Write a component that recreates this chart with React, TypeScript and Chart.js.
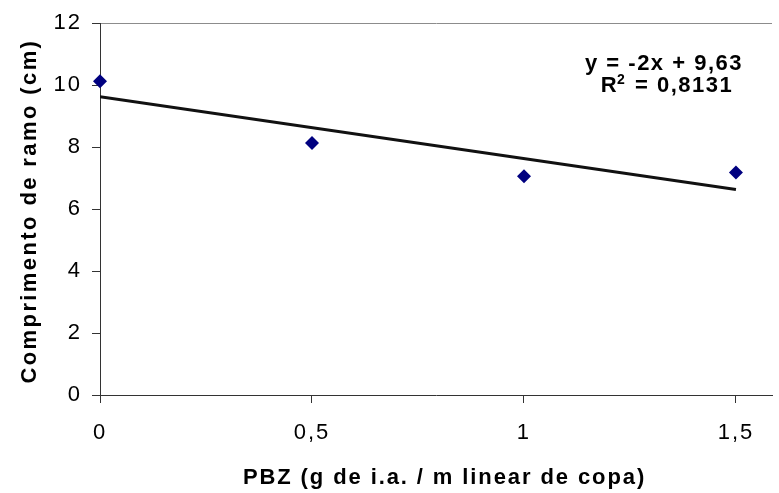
import React, { useEffect, useRef } from "react";
import { Chart, registerables } from "chart.js";

Chart.register(...registerables);

// ---- data ----
const doses = [0, 0.5, 1, 1.5];
const comprimento = [10.13, 8.13, 7.06, 7.18];
const trendX = [0, 1.5];
const trendY = [9.63, 6.63];
const xTickValues = [0, 0.5, 1, 1.5];
const xTickLabels = ["0", "0,5", "1", "1,5"];
const yTickValues = [0, 2, 4, 6, 8, 10, 12];
const equationLine = "y = -2x + 9,63";
const r2Prefix = "R";
const r2Sup = "2";
const r2Rest = " = 0,8131";
const xTitle = "PBZ (g de i.a. / m linear de copa)";
const yTitle = "Comprimento de ramo (cm)";

const W = 779;
const H = 493;
const FONT = '"Liberation Sans", Arial, Helvetica, sans-serif';

const spacingPlugin = {
  id: "spacing",
  beforeLayout(chart: any) {
    chart.ctx.letterSpacing = "2px";
  },
  beforeDraw(chart: any) {
    chart.ctx.letterSpacing = "2px";
  },
};

const textPlugin = {
  id: "texts",
  afterDraw(chart: any) {
    const ctx = chart.ctx;
    const area = chart.chartArea;
    ctx.save();
    ctx.fillStyle = "#000";
    // x title
    ctx.font = `bold 22px ${FONT}`;
    ctx.letterSpacing = "1.9px";
    ctx.textAlign = "center";
    ctx.textBaseline = "alphabetic";
    ctx.fillText(xTitle, (area.left + chart.width) / 2 + 5, 484);
    // y title
    ctx.save();
    ctx.letterSpacing = "2.4px";
    ctx.translate(36, (area.top + area.bottom) / 2 + 2);
    ctx.rotate(-Math.PI / 2);
    ctx.fillText(yTitle, 0, 0);
    ctx.restore();

    // equation
    const cx = 664;
    ctx.letterSpacing = "1.5px";
    ctx.font = `bold 22px ${FONT}`;
    ctx.textAlign = "center";
    ctx.fillText(equationLine, cx, 70);
    const wR = ctx.measureText(r2Prefix).width;
    const wRest = ctx.measureText(r2Rest).width;
    ctx.font = `bold 14px ${FONT}`;
    const wSup = ctx.measureText(r2Sup).width;
    const total = wR + wSup + wRest;
    let x = cx + 3 - total / 2;
    ctx.textAlign = "left";
    ctx.font = `bold 22px ${FONT}`;
    ctx.fillText(r2Prefix, x, 92);
    x += wR;
    ctx.font = `bold 14px ${FONT}`;
    ctx.fillText(r2Sup, x - 1, 84);
    x += wSup;
    ctx.font = `bold 22px ${FONT}`;
    ctx.fillText(r2Rest, x, 92);
    ctx.restore();
  },
};

export default function App() {
  const ref = useRef<HTMLCanvasElement | null>(null);

  useEffect(() => {
    if (!ref.current) return;
    const chart = new Chart(ref.current, {
      type: "scatter",
      data: {
        datasets: [
          {
            label: "Comprimento",
            data: doses.map((d, i) => ({ x: d, y: comprimento[i] })),
            showLine: false,
            pointStyle: "rectRot",
            pointRadius: 7,
            pointHoverRadius: 7,
            backgroundColor: "#000080",
            borderColor: "#000080",
            borderWidth: 0,
            clip: false,
          },
          {
            label: "Tendência",
            data: trendX.map((d, i) => ({ x: d, y: trendY[i] })),
            showLine: true,
            pointRadius: 0,
            borderColor: "#111111",
            borderWidth: 3,
            backgroundColor: "#111111",
          },
        ],
      },
      options: {
        responsive: false,
        animation: false,
        devicePixelRatio: 1,
        layout: { padding: { left: 0, right: 0, top: 22, bottom: 0 } },
        plugins: {
          legend: { display: false },
          tooltip: { enabled: false },
        },
        scales: {
          x: {
            type: "linear",
            min: 0,
            max: 1.585,
            afterBuildTicks: (scale: any) => {
              scale.ticks = xTickValues.map((v) => ({ value: v }));
            },
            afterFit: (scale: any) => {
              scale.height = 98;
            },
            ticks: {
              color: "#000",
              font: { family: FONT, size: 22 },
              padding: 17,
              maxRotation: 0,
              autoSkip: false,
              callback: (v: any) => {
                const i = xTickValues.indexOf(Number(v));
                return i >= 0 ? xTickLabels[i] : "";
              },
            },
            grid: {
              drawOnChartArea: false,
              drawTicks: true,
              tickLength: 8,
              tickColor: "#333",
              tickWidth: 1,
            },
            border: { display: true, color: "#333", width: 1 },
            title: { display: false },
          },
          y: {
            type: "linear",
            min: 0,
            max: 12,
            afterBuildTicks: (scale: any) => {
              scale.ticks = yTickValues.map((v) => ({ value: v }));
            },
            afterFit: (scale: any) => {
              scale.width = 100;
            },
            ticks: {
              color: "#000",
              font: { family: FONT, size: 22 },
              padding: 10,
            },
            grid: {
              drawOnChartArea: true,
              drawTicks: true,
              tickLength: 8,
              color: (c: any) => (c.tick && c.tick.value === 12 ? "#8c8c8c" : "rgba(0,0,0,0)"),
              tickColor: "#333",
              lineWidth: 1,
            },
            border: { display: true, color: "#333", width: 1 },
            title: { display: false },
          },
        },
      },
      plugins: [spacingPlugin, textPlugin],
    } as any);
    return () => chart.destroy();
  }, []);

  return (
    <div style={{ position: "fixed", left: 0, top: 0, width: W, height: H, background: "#fff" }}>
      <canvas ref={ref} width={W} height={H} style={{ width: `${W}px`, height: `${H}px`, display: "block" }} />
    </div>
  );
}
